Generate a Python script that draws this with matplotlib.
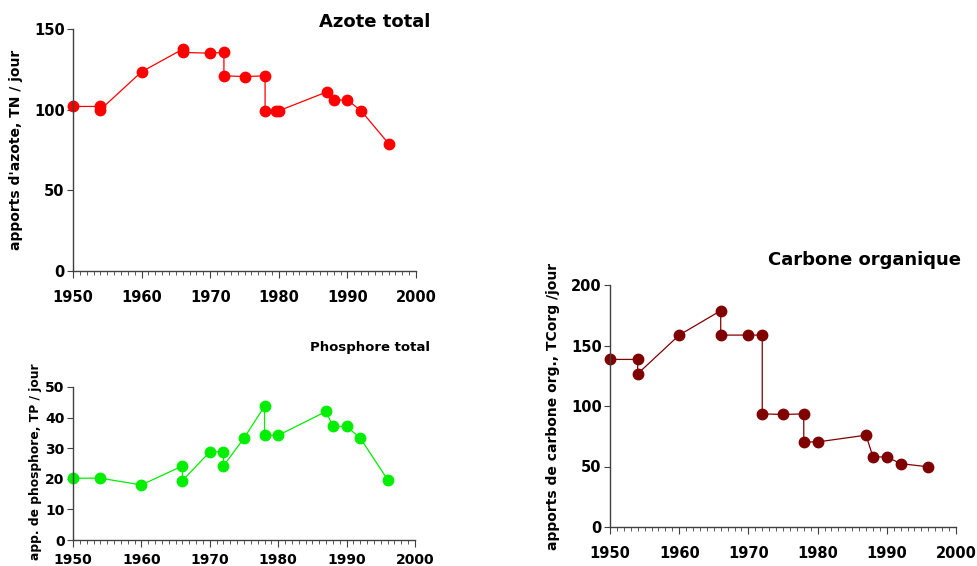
import numpy as np
import matplotlib
matplotlib.use("Agg")
import matplotlib.pyplot as plt
from matplotlib.ticker import MultipleLocator

plt.rcParams['font.family'] = ['DejaVu Sans']
plt.rcParams['font.weight'] = 'bold'

# Azote total (TN / jour)
annees_n = [1950, 1954, 1954, 1960, 1966, 1966, 1970, 1972, 1972, 1975, 1978, 1978, 1979.6, 1980, 1987, 1988, 1990, 1992, 1996]
azote = [102, 102, 100, 123.5, 137.5, 135.5, 135, 135.5, 121, 120.5, 121, 99.3, 99.3, 99.3, 111, 106, 106, 99.3, 79]

# Phosphore total (TP / jour)
annees_p = [1950, 1954, 1960, 1966, 1966, 1970, 1972, 1972, 1975, 1978, 1978, 1980, 1987, 1988, 1990, 1992, 1996]
phosphore = [20.2, 20.2, 18.0, 24.2, 19.4, 28.8, 28.8, 24.2, 33.3, 43.7, 34.2, 34.2, 42.0, 37.1, 37.1, 33.3, 19.7]

# Carbone organique (TCorg / jour)
annees_c = [1950, 1954, 1954, 1960, 1966, 1966, 1970, 1972, 1972, 1975, 1978, 1978, 1980, 1987, 1988, 1990, 1992, 1996]
carbone = [138.5, 138.5, 126.6, 158.6, 178.8, 158.6, 158.6, 158.6, 93.5, 93, 93.5, 70.3, 70.3, 75.9, 57.9, 57.9, 52.4, 49.7]

fig = plt.figure(figsize=(9.77, 5.66), dpi=100)


def panneau(rect, x, y, couleur, ymax, ypas, ylabel, titre, tsize, tpos, lpos,
            tick_fs=10.5, lab_fs=10, xpad=9, lab_y=0.5):
    ax = fig.add_axes(rect)
    ax.plot(x, y, color=couleur, lw=0.9, marker='o', ms=7.5, clip_on=False)
    ax.set_xlim(1950, 2000)
    ax.set_ylim(0, ymax)
    ax.xaxis.set_major_locator(MultipleLocator(10))
    ax.xaxis.set_minor_locator(MultipleLocator(1))
    ax.yaxis.set_major_locator(MultipleLocator(ypas))
    for s in ['top', 'right']:
        ax.spines[s].set_visible(False)
    for s in ['left', 'bottom']:
        ax.spines[s].set_color('#404040')
        ax.spines[s].set_linewidth(1.0)
    ax.tick_params(axis='x', which='major', length=5, direction='out', labelsize=tick_fs, pad=xpad, color='#404040')
    ax.tick_params(axis='x', which='minor', length=3, direction='out', color='#404040')
    ax.tick_params(axis='y', which='major', length=4, labelsize=tick_fs, pad=2, color='#404040')
    for t in ax.get_xticklabels() + ax.get_yticklabels():
        t.set_fontweight('bold')
    ax.set_ylabel(ylabel, fontsize=lab_fs, fontweight='bold')
    ax.yaxis.set_label_coords(lpos, lab_y)
    fig.text(tpos[0], tpos[1], titre, fontsize=tsize, fontweight='bold', ha='right', va='center')
    return ax


panneau([73 / 977, 1 - 271 / 566, 343 / 977, 242 / 566], annees_n, azote, '#FF0000', 150, 50,
        "apports d'azote, TN / jour", 'Azote total', 13, (430 / 977, 1 - 22 / 566), -0.146)
panneau([73 / 977, 1 - 540 / 566, 342 / 977, 153 / 566], annees_p, phosphore, '#00EE00', 50, 10,
        'app. de phosphore, TP / jour', 'Phosphore total', 9.5, (430 / 977, 1 - 348 / 566), -0.091,
        tick_fs=10, lab_fs=8.8, xpad=4, lab_y=0.515)
panneau([610 / 977, 1 - 527 / 566, 346 / 977, 242 / 566], annees_c, carbone, '#800000', 200, 50,
        'apports de carbone org., TCorg /jour', 'Carbone organique', 13, (961 / 977, 1 - 260 / 566), -0.145)

plt.savefig('out.png', dpi=100)
